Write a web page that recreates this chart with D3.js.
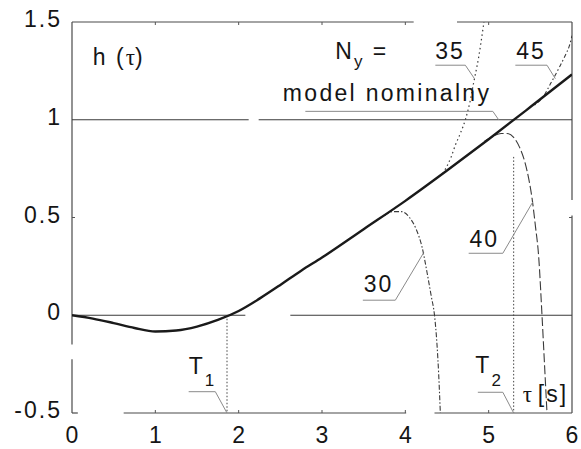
<!DOCTYPE html>
<html>
<head>
<meta charset="utf-8">
<script src="https://cdn.jsdelivr.net/npm/d3@7"></script>
<style>
  html, body { margin: 0; padding: 0; background: #fff; }
  svg { display: block; }
  text { font-family: "Liberation Sans", Arial, sans-serif; fill: #151515; letter-spacing: 2px; }
  .serif { font-family: "Liberation Serif", "Times New Roman", serif; letter-spacing: 0; }
</style>
</head>
<body>
<svg id="chart" width="581" height="449"></svg>
<script>
// Step response h(τ) of the nominal model and of the models with N_y = 30, 35, 40, 45
const tauNominal = [0, 0.25, 0.5, 0.75, 1, 1.25, 1.5, 1.75, 2, 2.25, 2.5, 2.75, 3, 3.5, 4, 4.5, 5, 5.5, 6];
const hNominal   = [0, -0.017, -0.04, -0.065, -0.083, -0.078, -0.058, -0.024, 0.022, 0.085, 0.155, 0.228, 0.295, 0.44, 0.585, 0.74, 0.9, 1.065, 1.232];

const tau30 = [3.75, 3.85, 3.95, 4.05, 4.13, 4.2, 4.26, 4.31, 4.35, 4.38, 4.4, 4.42];
const h30   = [0.51, 0.53, 0.53, 0.5, 0.44, 0.35, 0.22, 0.1, 0.0, -0.15, -0.3, -0.5];

const tau35 = [4.45, 4.55, 4.6, 4.66, 4.72, 4.78, 4.82, 4.88, 4.93, 4.95];
const h35   = [0.725, 0.81, 0.87, 0.93, 1.0, 1.1, 1.19, 1.32, 1.46, 1.52];

const tau40 = [4.95, 5.05, 5.15, 5.22, 5.3, 5.37, 5.43, 5.48, 5.52, 5.56, 5.6, 5.64, 5.67, 5.7];
const h40   = [0.89, 0.915, 0.93, 0.93, 0.91, 0.86, 0.79, 0.7, 0.6, 0.46, 0.3, 0.0, -0.25, -0.5];

const tau45 = [5.55, 5.65, 5.75, 5.85, 5.92, 5.97, 6.0];
const h45   = [1.075, 1.115, 1.19, 1.27, 1.33, 1.38, 1.43];

const xTicks = [0, 1, 2, 3, 4, 5, 6];
const yTicks = [-0.5, 0, 0.5, 1, 1.5];
const yTickLabels = ["-0.5", "0", "0.5", "1", "1.5"];

// crossing times of the nominal response
const T1 = 1.86;
const T2 = 5.3;

const svg = d3.select("#chart");
const margin = { left: 72, right: 9, top: 22, bottom: 36 };
const W = 581, H = 449;

const x = d3.scaleLinear().domain([0, 6]).range([margin.left, W - margin.right]);
const y = d3.scaleLinear().domain([-0.5, 1.5]).range([H - margin.bottom, margin.top]);

const lineGen = d3.line().x(d => x(d[0])).y(d => y(d[1])).curve(d3.curveMonotoneX);
const zip = (a, b) => a.map((v, i) => [v, b[i]]);

svg.append("clipPath").attr("id", "plot-clip")
  .append("rect")
  .attr("x", x(0)).attr("y", y(1.5))
  .attr("width", x(6) - x(0)).attr("height", y(-0.5) - y(1.5));

// segmented horizontal / vertical rule with breaks (breaks given in data units)
function hRule(yv, breaks, st) {
  let start = 0;
  const segs = [];
  breaks.forEach(b => { segs.push([start, b[0]]); start = b[1]; });
  segs.push([start, 6]);
  segs.forEach(s => {
    svg.append("line")
      .attr("x1", x(s[0])).attr("x2", x(s[1]))
      .attr("y1", y(yv)).attr("y2", y(yv))
      .attr("stroke", st.color).attr("stroke-width", st.width);
  });
}
function vRule(xv, breaks, st) {
  let start = -0.5;
  const segs = [];
  breaks.forEach(b => { segs.push([start, b[0]]); start = b[1]; });
  segs.push([start, 1.5]);
  segs.forEach(s => {
    svg.append("line")
      .attr("x1", x(xv)).attr("x2", x(xv))
      .attr("y1", y(s[0])).attr("y2", y(s[1]))
      .attr("stroke", st.color).attr("stroke-width", st.width);
  });
}

const frameStyle = { color: "#4a4a4a", width: 1.2 };
const refStyle = { color: "#3a3a3a", width: 1.1 };

// frame
hRule(1.5, [[4.1, 4.62]], frameStyle);
hRule(-0.5, [[0.07, 0.62], [4.01, 4.35]], frameStyle);
vRule(0, [[-0.225, -0.15]], frameStyle);
vRule(6, [[0.51, 0.59]], frameStyle);

// reference levels 0 and 1
hRule(0, [[2.08, 2.62]], refStyle);
hRule(1, [[2.12, 2.24]], refStyle);

// inner ticks
const tk = 3;
xTicks.slice(1, -1).forEach(t => {
  svg.append("line").attr("x1", x(t)).attr("x2", x(t))
    .attr("y1", y(-0.5)).attr("y2", y(-0.5) - tk).attr("stroke", "#555");
  svg.append("line").attr("x1", x(t)).attr("x2", x(t))
    .attr("y1", y(1.5)).attr("y2", y(1.5) + tk).attr("stroke", "#555");
});
[0.5].forEach(t => {
  svg.append("line").attr("x1", x(0)).attr("x2", x(0) + tk)
    .attr("y1", y(t)).attr("y2", y(t)).attr("stroke", "#555");
  svg.append("line").attr("x1", x(6)).attr("x2", x(6) - tk)
    .attr("y1", y(t)).attr("y2", y(t)).attr("stroke", "#555");
});

// tick labels
svg.append("g").selectAll("text").data(xTicks).join("text")
  .attr("x", d => x(d) + 1).attr("y", y(-0.5) + 30)
  .attr("text-anchor", "middle").attr("font-size", 23)
  .text(d => d);
svg.append("g").selectAll("text").data(yTicks).join("text")
  .attr("x", 62).attr("y", d => y(d) + 5)
  .attr("text-anchor", "end").attr("font-size", 23)
  .text((d, i) => yTickLabels[i]);

// crossing markers T1, T2
svg.append("line")
  .attr("x1", x(T1)).attr("x2", x(T1)).attr("y1", y(0)).attr("y2", y(-0.5))
  .attr("stroke", "#444").attr("stroke-width", 1).attr("stroke-dasharray", "1.5,2");
svg.append("line")
  .attr("x1", x(T2)).attr("x2", x(T2)).attr("y1", y(0.81)).attr("y2", y(-0.5))
  .attr("stroke", "#444").attr("stroke-width", 1).attr("stroke-dasharray", "1.5,2");

// curves
const plot = svg.append("g").attr("clip-path", "url(#plot-clip)");
const variants = [
  { t: tau30, h: h30, dash: "5,2,1.5,2", w: 1.1 },
  { t: tau35, h: h35, dash: "1.5,3", w: 1.2 },
  { t: tau40, h: h40, dash: "9,3", w: 1.1 },
  { t: tau45, h: h45, dash: "1.5,2.5,4,2.5", w: 1.1 }
];
variants.forEach(v => {
  plot.append("path")
    .attr("d", lineGen(zip(v.t, v.h)))
    .attr("fill", "none").attr("stroke", "#3a3a3a")
    .attr("stroke-width", v.w).attr("stroke-dasharray", v.dash);
});
plot.append("path")
  .attr("d", lineGen(zip(tauNominal, hNominal)))
  .attr("fill", "none").attr("stroke", "#1a1a1a").attr("stroke-width", 2.4);

// label leaders: underline then slanted pointer (in data units)
const leaders = [
  [[4.36, 1.279], [4.72, 1.279], [4.83, 1.21]],   // 35
  [[5.32, 1.279], [5.7, 1.279], [5.8, 1.21]],     // 45
  [[2.8, 1.043], [5.05, 1.043], [5.12, 1.0]],     // model nominalny
  [[4.76, 0.317], [5.17, 0.317], [5.53, 0.58]],   // 40
  [[3.49, 0.077], [3.88, 0.077], [4.22, 0.32]],   // 30
  [[1.4, -0.391], [1.72, -0.391], [1.86, -0.5]],  // T1
  [[4.87, -0.394], [5.17, -0.394], [5.3, -0.5]]   // T2
];
leaders.forEach(pts => {
  svg.append("path")
    .attr("d", d3.line().x(d => x(d[0])).y(d => y(d[1]))(pts))
    .attr("fill", "none").attr("stroke", "#8a8a8a").attr("stroke-width", 1);
});

// annotations
function label(tx, ty, str, size) {
  return svg.append("text").attr("x", x(tx)).attr("y", y(ty)).attr("font-size", size || 23).text(str);
}
// h(τ)
const ht = svg.append("text").attr("x", x(0.25)).attr("y", y(1.28)).attr("font-size", 23);
ht.append("tspan").text("h (");
ht.append("tspan").attr("class", "serif").text("τ");
ht.append("tspan").text(")");

// N_y =
const ny = svg.append("text").attr("x", x(3.16)).attr("y", y(1.31)).attr("font-size", 23);
ny.append("tspan").text("N");
ny.append("tspan").attr("font-size", 17).attr("dy", 8).text("y");
ny.append("tspan").attr("dy", -8).text(" =");

label(4.36, 1.31, "35");
label(5.33, 1.31, "45");
svg.append("text").attr("x", x(2.53)).attr("y", y(1.095)).attr("font-size", 23)
  .style("letter-spacing", "2.3px").text("model nominalny");
label(4.77, 0.35, "40");
label(3.5, 0.118, "30");

const t1 = svg.append("text").attr("x", x(1.4)).attr("y", y(-0.301)).attr("font-size", 23);
t1.append("tspan").text("T");
t1.append("tspan").attr("font-size", 17).attr("dy", 12).text("1");
const t2 = svg.append("text").attr("x", x(4.84)).attr("y", y(-0.293)).attr("font-size", 23);
t2.append("tspan").text("T");
t2.append("tspan").attr("font-size", 17).attr("dy", 13).text("2");

const tu = svg.append("text").attr("x", x(5.41)).attr("y", y(-0.445)).attr("font-size", 23);
tu.append("tspan").attr("class", "serif").text("τ ");
tu.append("tspan").text("[s]");
</script>
</body>
</html>
